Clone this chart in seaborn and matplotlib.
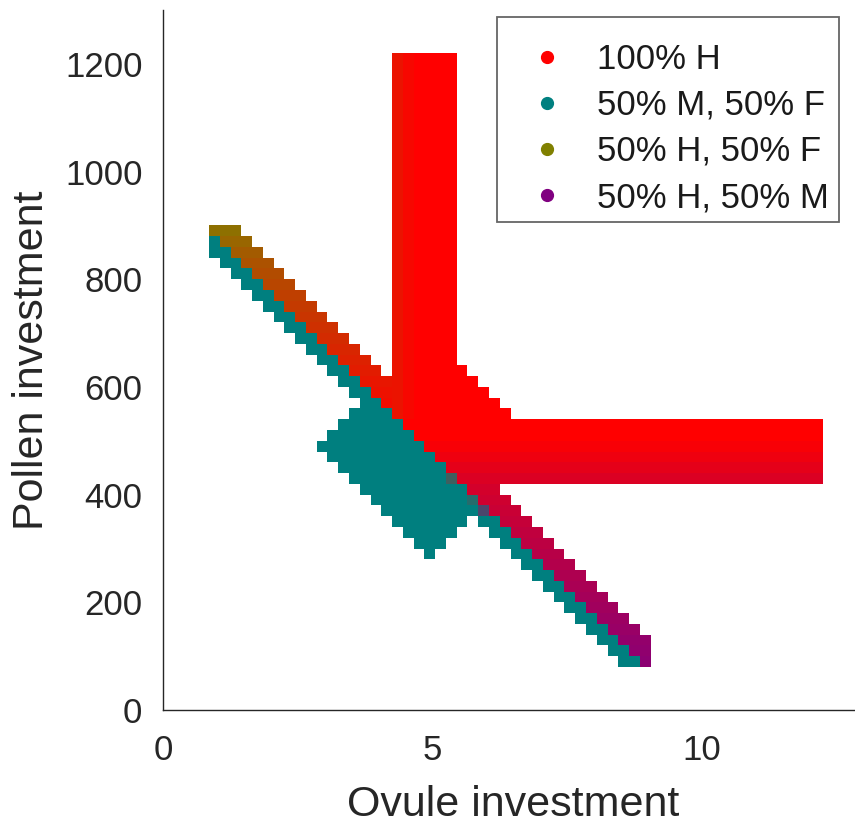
import numpy as np
import matplotlib
matplotlib.use("Agg")
import matplotlib.pyplot as plt
import seaborn as sns
from matplotlib.lines import Line2D
from matplotlib.patches import Rectangle

# ---------------- data ----------------
strategies = ["100% H", "50% M, 50% F", "50% H, 50% F", "50% H, 50% M"]
strategy_colors = [(1.0, 0.0, 0.0), (0.0, 0.5, 0.5), (0.5, 0.5, 0.0), (0.5, 0.0, 0.5)]

# simulation grid (cell centres)
ovule_first, ovule_step, n_ovule = 0.95, 0.2, 57
pollen_first, pollen_step, n_pollen = 90, 20, 57

# 50% M, 50% F cells: (pollen, ovule_from, ovule_to)
mf_spans = [
    (90, 8.55, 8.75), (110, 8.35, 8.55), (130, 8.15, 8.35), (150, 7.95, 8.15),
    (170, 7.75, 7.95), (190, 7.55, 7.75), (210, 7.35, 7.55), (230, 7.15, 7.35),
    (250, 6.95, 7.15), (270, 6.75, 6.95),
    (290, 4.95, 4.95), (290, 6.55, 6.75),
    (310, 4.75, 5.15), (310, 6.35, 6.55),
    (330, 4.55, 5.35), (330, 6.15, 6.35),
    (350, 4.35, 5.55), (350, 5.95, 6.15),
    (370, 4.15, 5.95), (390, 3.95, 5.75), (410, 3.75, 5.55), (430, 3.55, 5.35),
    (450, 3.35, 5.15), (470, 3.15, 4.95), (490, 2.95, 4.75), (510, 3.15, 4.55),
    (530, 3.35, 4.35), (550, 3.55, 4.15), (570, 3.75, 3.95), (590, 3.55, 3.75),
    (610, 3.35, 3.55), (630, 3.15, 3.35), (650, 2.95, 3.15), (670, 2.75, 2.95),
    (690, 2.55, 2.75), (710, 2.35, 2.55), (730, 2.15, 2.35), (750, 1.95, 2.15),
    (770, 1.75, 1.95), (790, 1.55, 1.75), (810, 1.35, 1.55), (830, 1.15, 1.35),
    (850, 0.95, 1.15), (870, 0.95, 0.95),
]

# 100% H blocks: (pollen_from, pollen_to, ovule_from, ovule_to)
h_blocks = [
    (650, 1210, 4.35, 5.35),
    (630, 630, 4.35, 5.55),
    (610, 610, 4.35, 5.75),
    (590, 590, 4.35, 5.95),
    (570, 570, 4.35, 6.15),
    (550, 550, 4.35, 6.35),
    (430, 530, 4.35, 12.15),
]
# slight admixture inside the H region
h_col_hf_share = {4.35: 0.15, 4.55: 0.06}           # applies for pollen >= 550
h_row_hm_share = {430: 0.28, 450: 0.20, 470: 0.12, 490: 0.05}

# mixed diagonal band: H share, rest is HM (below) or HF (above)
band_pollen = [90, 110, 130, 150, 170, 190, 210, 230, 250, 270, 290, 310, 330,
               350, 370, 390, 410,
               570, 590, 610, 630, 650, 670, 690, 710, 730, 750, 770, 790, 810,
               830, 850, 870, 890]
band_from = [8.95, 8.75, 8.55, 8.35, 8.15, 7.95, 7.75, 7.55, 7.35, 7.15, 6.95,
             6.75, 6.55, 6.35, 6.15, 5.95, 5.75,
             4.15, 3.95, 3.75, 3.55, 3.35, 3.15, 2.95, 2.75, 2.55, 2.35, 2.15,
             1.95, 1.75, 1.55, 1.35, 1.15, 0.95]
band_to = [8.95, 8.95, 8.95, 8.75, 8.55, 8.35, 8.15, 7.95, 7.75, 7.55, 7.35,
           7.15, 6.95, 6.75, 6.55, 6.35, 6.15,
           4.15, 4.15, 4.15, 3.95, 3.75, 3.55, 3.35, 3.15, 2.95, 2.75, 2.55,
           2.35, 2.15, 1.95, 1.75, 1.55, 1.35]
band_h_share = [0.10, 0.13, 0.16, 0.20, 0.23, 0.27, 0.30, 0.34, 0.37, 0.41,
                0.44, 0.48, 0.51, 0.55, 0.58, 0.62, 0.66,
                0.90, 0.86, 0.82, 0.78, 0.74, 0.70, 0.66, 0.62, 0.58, 0.54,
                0.50, 0.45, 0.40, 0.35, 0.28, 0.20, 0.12]

# isolated mixed cells: (ovule, pollen, H, MF, HF, HM)
mixed_cells = [
    (5.35, 430, 0.25, 0.75, 0.0, 0.0),
    (5.75, 390, 0.15, 0.85, 0.0, 0.0),
    (5.95, 370, 0.15, 0.55, 0.0, 0.30),
]

# ---------------- build grid ----------------
W = np.zeros((4, n_pollen, n_ovule))


def oi(x):
    return int(round((x - ovule_first) / ovule_step))


def pi(y):
    return int(round((y - pollen_first) / pollen_step))


for p, a, b, share in zip(band_pollen, band_from, band_to, band_h_share):
    partner = 3 if p < 420 else 2
    for k in range(oi(a), oi(b) + 1):
        W[:, pi(p), k] = 0
        W[0, pi(p), k] = share
        W[partner, pi(p), k] = 1 - share

for p0, p1, a, b in h_blocks:
    for r in range(pi(p0), pi(p1) + 1):
        p = pollen_first + r * pollen_step
        for k in range(oi(a), oi(b) + 1):
            x = round(ovule_first + k * ovule_step, 2)
            W[:, r, k] = 0
            hf = h_col_hf_share.get(x, 0.0) if p >= 550 else 0.0
            hm = h_row_hm_share.get(p, 0.0)
            W[2, r, k] = hf
            W[3, r, k] = hm
            W[0, r, k] = 1 - hf - hm

for p, a, b in mf_spans:
    for k in range(oi(a), oi(b) + 1):
        W[:, pi(p), k] = 0
        W[1, pi(p), k] = 1

for x, p, h, mf, hf, hm in mixed_cells:
    W[:, pi(p), oi(x)] = [h, mf, hf, hm]

cols = np.array(strategy_colors)
rgb = np.einsum("srk,sc->rkc", W, cols)
total = W.sum(axis=0)[..., None]
rgb = rgb + (1 - total) * 1.0
rgb = np.clip(rgb, 0, 1)

# ---------------- plot ----------------
sns.set_theme(style="white")
plt.rcParams["font.family"] = ["Liberation Sans", "DejaVu Sans"]
dark = (0.15, 0.15, 0.15)

fig = plt.figure(figsize=(8.55, 8.26), dpi=100)
ax = fig.add_axes([163.3 / 855, 116 / 826, 700.05 / 855, 699.8 / 826])

x0 = ovule_first - ovule_step / 2
y0 = pollen_first - pollen_step / 2
ax.imshow(rgb, origin="lower", interpolation="nearest", aspect="auto",
          extent=(x0, x0 + n_ovule * ovule_step, y0, y0 + n_pollen * pollen_step))

ax.set_xlim(0, 13)
ax.set_ylim(0, 1300)
ax.set_xticks([0, 5, 10])
ax.set_yticks([0, 200, 400, 600, 800, 1000, 1200])
ax.tick_params(direction="in", length=6, width=1, colors=dark, labelsize=25)
ax.tick_params(axis="y", pad=15)
ax.tick_params(axis="x", pad=17)
sns.despine(ax=ax, top=True, right=True)
for s in ("left", "bottom"):
    ax.spines[s].set_color(dark)
    ax.spines[s].set_linewidth(1)

ax.set_xlabel("Ovule investment", fontsize=31, color=dark, labelpad=13)
ax.set_ylabel("Pollen investment", fontsize=31, color=dark, labelpad=9)

# legend frame (drawn separately to match the box)
frame = Rectangle((497 / 855, (826 - 222) / 826), 342 / 855, 205 / 826,
                  transform=fig.transFigure, facecolor="white",
                  edgecolor=(0.4, 0.4, 0.4), linewidth=1.3, zorder=4)
fig.patches.append(frame)

handles = [Line2D([], [], marker="o", linestyle="none", markersize=8.5,
                  markerfacecolor=c, markeredgecolor=c) for c in strategy_colors]
leg = fig.legend(handles, strategies, loc="upper right",
                 bbox_to_anchor=(839 / 855, 1 - 32.3 / 826),
                 bbox_transform=fig.transFigure, fontsize=25, frameon=False,
                 borderpad=0.3, handlelength=2.36, handletextpad=0.26,
                 labelspacing=0.378, borderaxespad=0)
leg.set_zorder(5)
for t in leg.get_texts():
    t.set_color((0.1, 0.1, 0.1))

fig.savefig("out.png", dpi=100)
